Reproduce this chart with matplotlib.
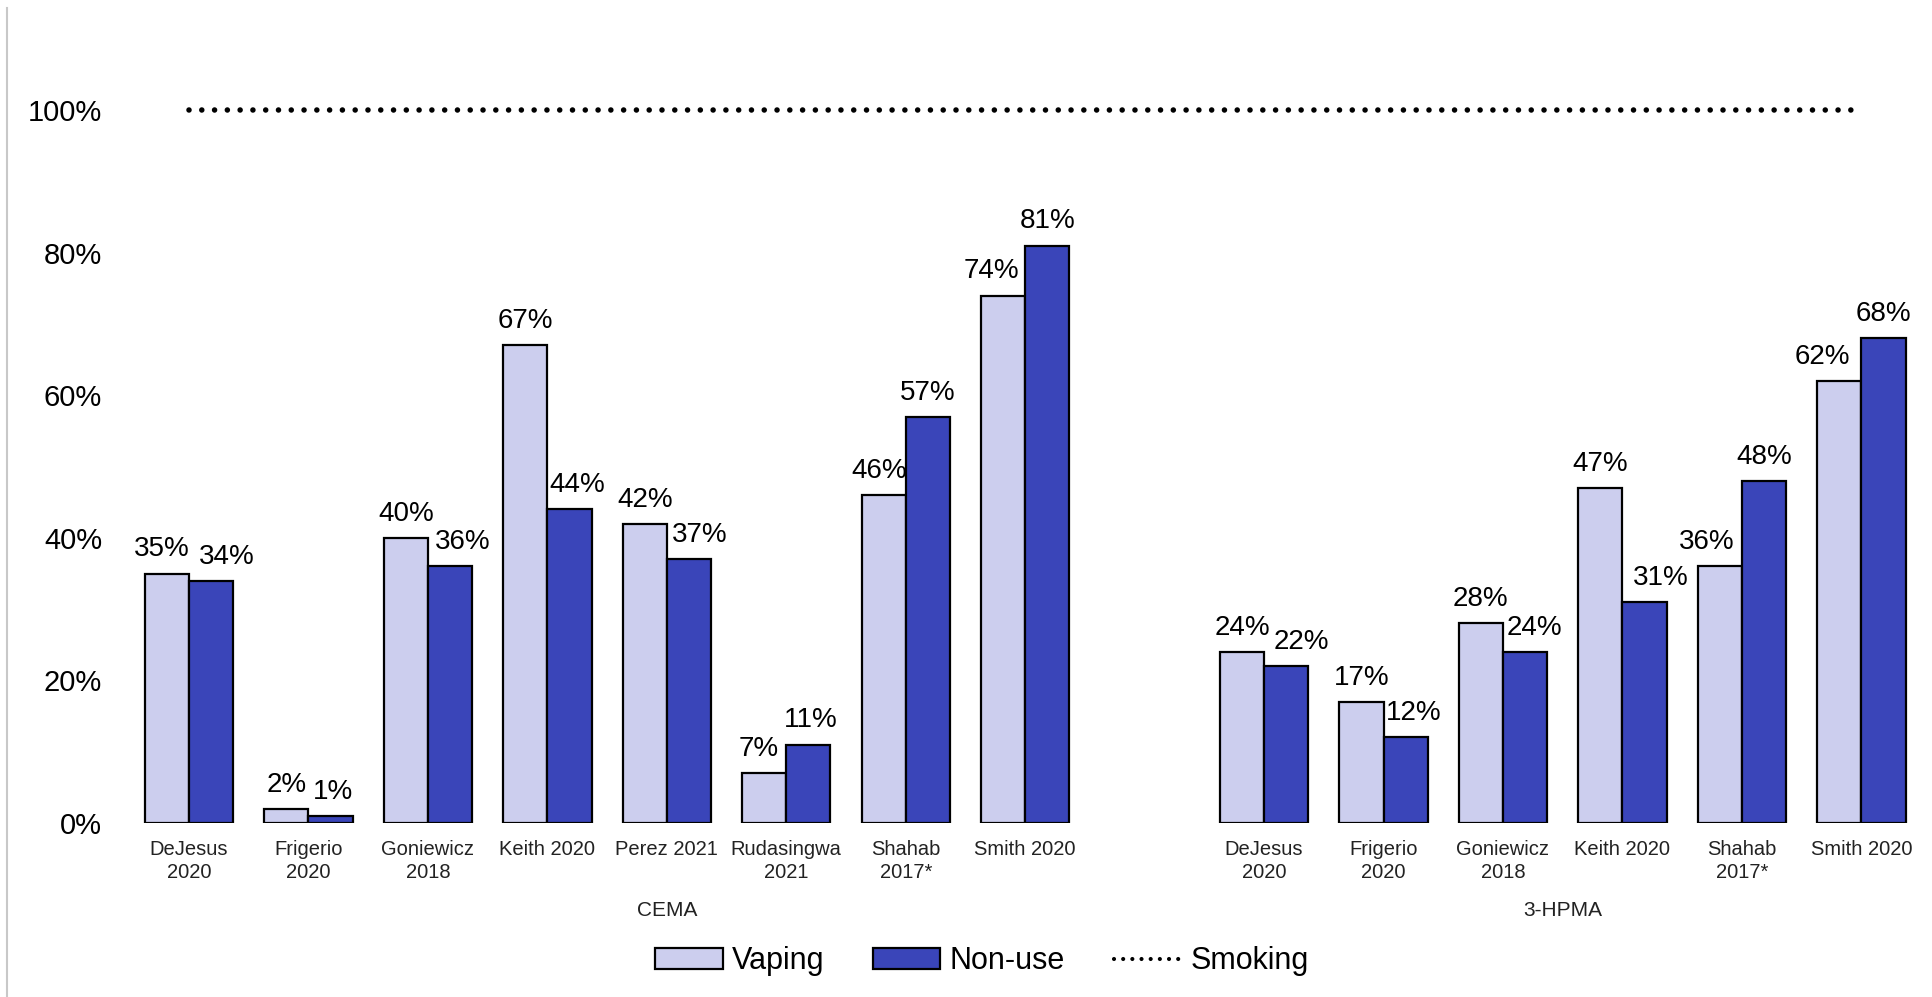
import numpy as np
import matplotlib
matplotlib.use("Agg")
import matplotlib.pyplot as plt
from matplotlib.lines import Line2D
from matplotlib.patches import Patch

plt.rcParams['font.family'] = ['Liberation Sans', 'DejaVu Sans']

# data
cema_studies = ['DeJesus\n2020', 'Frigerio\n2020', 'Goniewicz\n2018', 'Keith 2020',
                'Perez 2021', 'Rudasingwa\n2021', 'Shahab\n2017*', 'Smith 2020']
cema_vaping = [35, 2, 40, 67, 42, 7, 46, 74]
cema_nonuse = [34, 1, 36, 44, 37, 11, 57, 81]

hpma_studies = ['DeJesus\n2020', 'Frigerio\n2020', 'Goniewicz\n2018', 'Keith 2020',
                'Shahab\n2017*', 'Smith 2020']
hpma_vaping = [24, 17, 28, 47, 36, 62]
hpma_nonuse = [22, 12, 24, 31, 48, 68]

groups = ['CEMA', '3-HPMA']
smoking_level = 100

col_vape = '#CCCEEE'
col_non = '#3A45B9'

# slot positions: CEMA, one empty slot, then 3-HPMA
x_cema = np.arange(len(cema_studies))
x_hpma = np.arange(len(hpma_studies)) + len(cema_studies) + 1
xs = np.concatenate([x_cema, x_hpma])
labels = cema_studies + hpma_studies
vaping = cema_vaping + hpma_vaping
nonuse = cema_nonuse + hpma_nonuse

fig = plt.figure(figsize=(19.33, 9.97), dpi=100)
ax = fig.add_axes([0.0607, 0.1745, 0.9393, 0.7865])

w = 0.37
ax.bar(xs - w/2, vaping, w, color=col_vape, edgecolor='black', linewidth=1.6, label='Vaping')
ax.bar(xs + w/2, nonuse, w, color=col_non, edgecolor='black', linewidth=1.6, label='Non-use')

# smoking reference line across all studies
ax.plot([xs[0], xs[-1]], [smoking_level, smoking_level], color='black', lw=4,
        linestyle=(0, (0.001, 2.3)), dash_capstyle='round', label='Smoking')

# value labels, nudged sideways (in px) where the original moved them apart
px = 72 / 100
nudge_v = {0: -5, 5: -5, 6: -4, 7: -12, 12: -13, 13: -17}
nudge_n = {0: 16, 1: 2, 2: 13, 3: 8, 4: 11, 5: 2, 8: 15, 9: 8, 10: 9, 11: 16}
for i, (x, v, n) in enumerate(zip(xs, vaping, nonuse)):
    ax.annotate(f'{v}%', (x - w/2, v), xytext=(nudge_v.get(i, 0) * px, 8), textcoords='offset points',
                ha='center', va='bottom', fontsize=20)
    ax.annotate(f'{n}%', (x + w/2, n), xytext=(nudge_n.get(i, 0) * px, 8), textcoords='offset points',
                ha='center', va='bottom', fontsize=20)

ax.set_xlim(-0.6, 14.6)
ax.set_ylim(0, 110)
ax.set_yticks([0, 20, 40, 60, 80, 100])
ax.set_yticklabels([f'{t}%' for t in [0, 20, 40, 60, 80, 100]], fontsize=21)
ax.set_xticks(xs)
ax.set_xticklabels(labels, fontsize=14.5, color='#222222', linespacing=1.3)
ax.tick_params(axis='x', length=0, pad=12)
ax.tick_params(axis='y', length=0, pad=11)
for s in ax.spines.values():
    s.set_visible(False)

# group labels under the studies
grp_x = [(x_cema[0] + x_hpma[0] - 1) / 2, (x_hpma[0] + x_hpma[-1]) / 2]
for g, gx in zip(groups, grp_x):
    ax.text(gx, -0.112, g, transform=ax.get_xaxis_transform(), ha='center', va='center',
            fontsize=15, color='#222222')

handles = [Patch(facecolor=col_vape, edgecolor='black', linewidth=1.6),
           Patch(facecolor=col_non, edgecolor='black', linewidth=1.6),
           Line2D([], [], color='black', lw=3, linestyle=(0, (0.001, 2.2)), dash_capstyle='round')]
fig.legend(handles, ['Vaping', 'Non-use', 'Smoking'], loc='center', bbox_to_anchor=(0.508, 0.036),
           ncol=3, frameon=False, fontsize=22, handlelength=2.2, handleheight=0.65,
           handletextpad=0.3, columnspacing=1.6)

# thin grey border on the left edge
fig.add_artist(Line2D([7/1933, 7/1933], [0, 1 - 8/997], color='#C8C8C8', lw=1.5,
                      transform=fig.transFigure))

fig.savefig('out.png', dpi=100, facecolor='white')
